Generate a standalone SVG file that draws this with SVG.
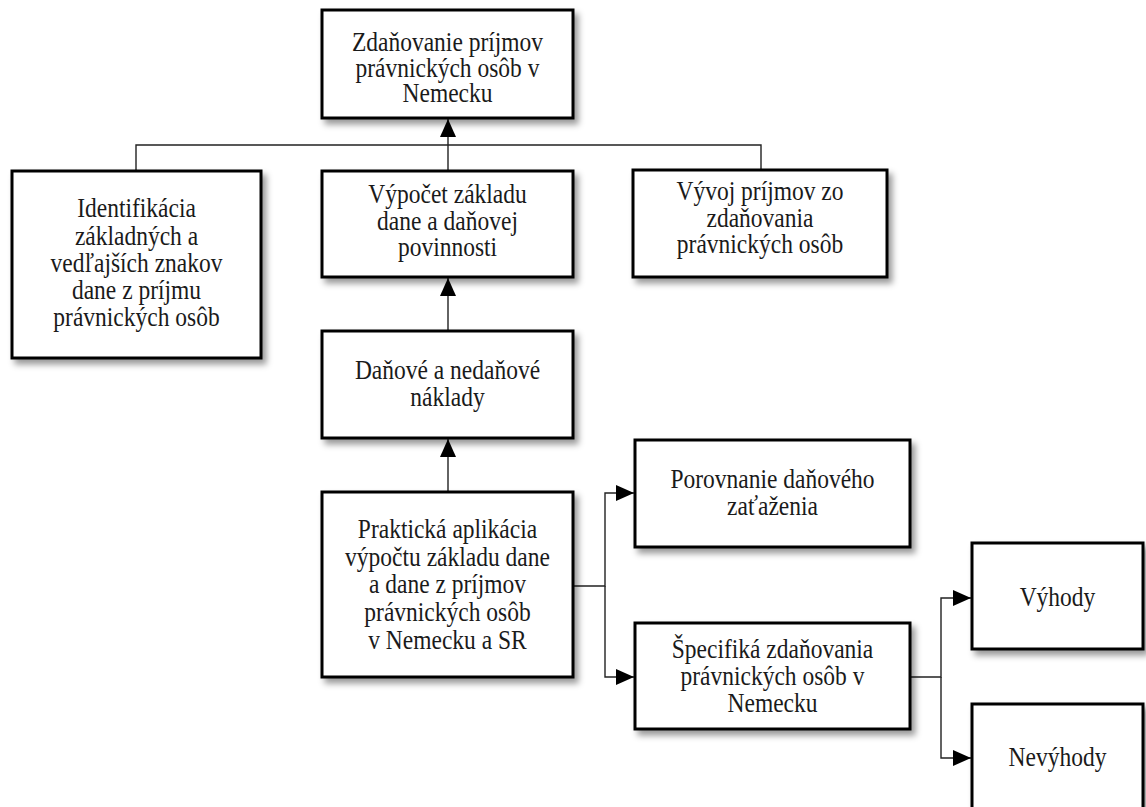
<svg xmlns="http://www.w3.org/2000/svg" width="1146" height="807" viewBox="0 0 1146 807">
<style>
.box{fill:#fff;stroke:#000;stroke-width:3;filter:url(#sh)}
.t{font-family:"Liberation Serif","Times New Roman",serif;font-size:23.5px;fill:#1a1a1a;text-anchor:middle}
.c{fill:none;stroke:#222;stroke-width:1.4}
</style>
<defs>
<filter id="sh" x="-10%" y="-10%" width="130%" height="140%">
<feDropShadow dx="4" dy="5" stdDeviation="3" flood-color="#000" flood-opacity="0.4"/>
</filter>
<marker id="ar" markerUnits="userSpaceOnUse" markerWidth="19" markerHeight="17" refX="18" refY="8" orient="auto">
<path d="M0,0 L18,8 L0,16 z" fill="#000"/>
</marker>
</defs>
<rect width="1146" height="807" fill="#fff"/>
<g id="connectors">
<path class="c" d="M136,171 V145 H761 V170"/>
<path class="c" d="M448,171 V119" marker-end="url(#ar)"/>
<path class="c" d="M448,331 V278" marker-end="url(#ar)"/>
<path class="c" d="M448,492 V439" marker-end="url(#ar)"/>
<path class="c" d="M573,586 H605 V493 H634" marker-end="url(#ar)"/>
<path class="c" d="M605,586 V677 H634" marker-end="url(#ar)"/>
<path class="c" d="M910,677 H941 V598 H971" marker-end="url(#ar)"/>
<path class="c" d="M941,677 V758 H971" marker-end="url(#ar)"/>
</g>
<g id="n-top">
<rect class="box" x="322" y="10" width="251" height="108"/>
<text class="t" transform="matrix(1 0 0 1.15 447.5 51)">Zdaňovanie príjmov</text>
<text class="t" transform="matrix(1 0 0 1.15 447.5 77)">právnických osôb v</text>
<text class="t" transform="matrix(1 0 0 1.15 447.5 102)">Nemecku</text>
</g>
<g id="n-ident">
<rect class="box" x="12" y="171" width="249" height="187"/>
<text class="t" transform="matrix(1 0 0 1.15 136.5 217)">Identifikácia</text>
<text class="t" transform="matrix(1 0 0 1.15 136.5 245)">základných a</text>
<text class="t" transform="matrix(1 0 0 1.15 136.5 272)">vedľajších znakov</text>
<text class="t" transform="matrix(1 0 0 1.15 136.5 299)">dane z príjmu</text>
<text class="t" transform="matrix(1 0 0 1.15 136.5 326)">právnických osôb</text>
</g>
<g id="n-vypocet">
<rect class="box" x="322" y="171" width="251" height="106"/>
<text class="t" transform="matrix(1 0 0 1.15 447.5 203)">Výpočet základu</text>
<text class="t" transform="matrix(1 0 0 1.15 447.5 230)">dane a daňovej</text>
<text class="t" transform="matrix(1 0 0 1.15 447.5 256)">povinnosti</text>
</g>
<g id="n-vyvoj">
<rect class="box" x="633" y="170" width="254" height="107"/>
<text class="t" transform="matrix(1 0 0 1.15 760 200)">Vývoj príjmov zo</text>
<text class="t" transform="matrix(1 0 0 1.15 760 227)">zdaňovania</text>
<text class="t" transform="matrix(1 0 0 1.15 760 253)">právnických osôb</text>
</g>
<g id="n-danove">
<rect class="box" x="322" y="331" width="251" height="107"/>
<text class="t" transform="matrix(1 0 0 1.15 447.5 379)">Daňové a nedaňové</text>
<text class="t" transform="matrix(1 0 0 1.15 447.5 406)">náklady</text>
</g>
<g id="n-prakticka">
<rect class="box" x="322" y="492" width="251" height="185"/>
<text class="t" transform="matrix(1 0 0 1.15 447.5 538)">Praktická aplikácia</text>
<text class="t" transform="matrix(1 0 0 1.15 447.5 566)">výpočtu základu dane</text>
<text class="t" transform="matrix(1 0 0 1.15 447.5 593)">a dane z príjmov</text>
<text class="t" transform="matrix(1 0 0 1.15 447.5 621)">právnických osôb</text>
<text class="t" transform="matrix(1 0 0 1.15 447.5 649)">v Nemecku a SR</text>
</g>
<g id="n-porovnanie">
<rect class="box" x="635" y="440" width="275" height="107"/>
<text class="t" transform="matrix(1 0 0 1.15 772.5 488)">Porovnanie daňového</text>
<text class="t" transform="matrix(1 0 0 1.15 772.5 515)">zaťaženia</text>
</g>
<g id="n-specifika">
<rect class="box" x="635" y="623" width="275" height="106"/>
<text class="t" transform="matrix(1 0 0 1.15 772.5 658)">Špecifiká zdaňovania</text>
<text class="t" transform="matrix(1 0 0 1.15 772.5 685)">právnických osôb v</text>
<text class="t" transform="matrix(1 0 0 1.15 772.5 712)">Nemecku</text>
</g>
<g id="n-vyhody">
<rect class="box" x="972" y="543" width="171" height="106"/>
<text class="t" transform="matrix(1 0 0 1.15 1057.5 606)">Výhody</text>
</g>
<g id="n-nevyhody">
<rect class="box" x="972" y="704" width="171" height="110"/>
<text class="t" transform="matrix(1 0 0 1.15 1057.5 766)">Nevýhody</text>
</g>
</svg>
